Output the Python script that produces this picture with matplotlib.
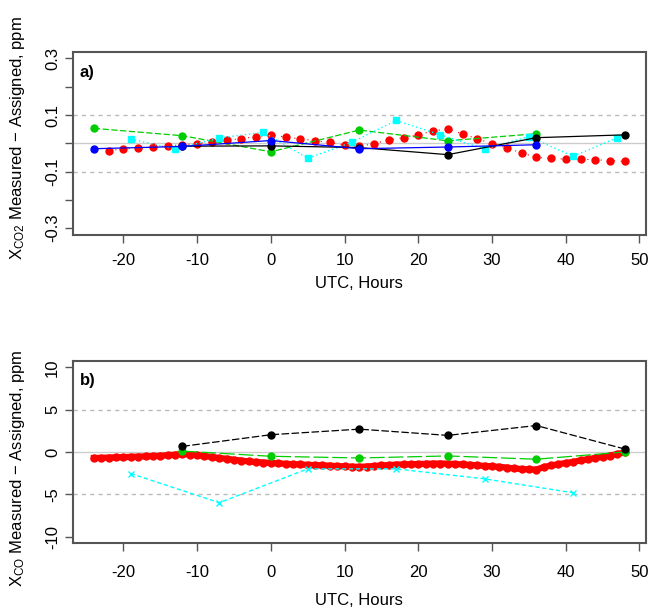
import numpy as np
import matplotlib
matplotlib.use("Agg")
import matplotlib.pyplot as plt

plt.rcParams['font.family'] = ['Liberation Sans', 'DejaVu Sans']
plt.rcParams['mathtext.fontset'] = 'custom'
plt.rcParams['mathtext.rm'] = 'Liberation Sans'

# ---- CO2 panel (a) ----
co2_green_t = [-24, -12, 0, 12, 24, 36]
co2_green = [0.053, 0.027, -0.030, 0.047, 0.009, 0.034]
co2_black_t = [-12, 0, 12, 24, 36, 48]
co2_black = [-0.010, -0.009, -0.015, -0.040, 0.020, 0.030]
co2_blue_t = [-24, -12, 0, 12, 24, 36]
co2_blue = [-0.019, -0.011, 0.010, -0.019, -0.013, -0.005]
co2_cyan_t = [-19, -13, -7, -1, 5, 11, 17, 23, 29, 35, 41, 47]
co2_cyan = [0.015, -0.020, 0.019, 0.039, -0.053, 0.004, 0.081, 0.030,
            -0.020, 0.024, -0.046, 0.020]
co2_red_t = list(range(-22, 49, 2))
co2_red = [-0.026, -0.020, -0.017, -0.013, -0.009, -0.005, -0.001, 0.006,
           0.011, 0.017, 0.023, 0.030, 0.022, 0.016, 0.009, 0.003, -0.006,
           -0.011, -0.001, 0.012, 0.020, 0.030, 0.044, 0.051, 0.033, 0.016,
           -0.001, -0.016, -0.034, -0.050, -0.053, -0.056, -0.056, -0.058,
           -0.061, -0.064]

# ---- CO panel (b) ----
co_black_t = [-12, 0, 12, 24, 36, 48]
co_black = [0.66, 2.04, 2.70, 1.96, 3.13, 0.35]
co_green_t = [-12, 0, 12, 24, 36, 48]
co_green = [0.10, -0.51, -0.71, -0.47, -0.86, 0.0]
co_cyan_t = [-19, -7, 5, 17, 29, 41]
co_cyan = [-2.55, -6.0, -2.0, -2.0, -3.18, -4.83]
co_red_t = list(range(-24, 49))
co_red = [-0.71, -0.70, -0.66, -0.64, -0.62, -0.58, -0.55, -0.52, -0.48,
          -0.45, -0.38, -0.32, -0.24, -0.30, -0.38, -0.48, -0.60, -0.72,
          -0.80, -0.92, -1.02, -1.12, -1.18, -1.25, -1.30, -1.35, -1.40,
          -1.44, -1.48, -1.52, -1.55, -1.58, -1.62, -1.67, -1.70, -1.74,
          -1.76, -1.72, -1.66, -1.60, -1.55, -1.50, -1.47, -1.45, -1.43,
          -1.40, -1.38, -1.37, -1.38, -1.43, -1.48, -1.52, -1.58, -1.65,
          -1.70, -1.76, -1.84, -1.95, -2.02, -2.06, -2.08, -1.80, -1.60,
          -1.45, -1.30, -1.18, -1.00, -0.85, -0.72, -0.58, -0.42, -0.25,
          -0.05]

x_ticks = [-20, -10, 0, 10, 20, 30, 40, 50]
GREEN = '#00CD00'
CYAN = '#00FFFF'
AXCOL = '#555555'

fig = plt.figure(figsize=(6.5, 6.14), dpi=100)
ax1 = fig.add_axes([0.1118, 0.6173, 0.882, 0.2985])
ax2 = fig.add_axes([0.1118, 0.1152, 0.882, 0.2974])


def style_axes(ax, ylim, yticks, ylabels, ref, xpad, lpad):
    ax.set_xlim(-26.88, 50.88)
    ax.set_ylim(*ylim)
    ax.axhline(0, color='#CCCCCC', lw=1.0, zorder=0)
    for r in ref:
        ax.axhline(r, color='#BBBBBB', lw=1.0, ls=(0, (3, 3)), zorder=0)
    ax.set_xticks(x_ticks)
    ax.set_xticklabels([str(v) for v in x_ticks])
    ax.set_yticks(yticks)
    ax.set_yticklabels(ylabels)
    for lab in ax.get_yticklabels():
        lab.set_rotation(90)
        lab.set_va('center')
    ax.tick_params(length=6, width=1.0, color=AXCOL, labelsize=12, pad=3)
    ax.tick_params(axis='x', pad=xpad)
    for sp in ax.spines.values():
        sp.set_color(AXCOL)
        sp.set_linewidth(1.5)
    ax.set_xlabel('UTC, Hours', fontsize=12, labelpad=lpad)


# panel a
style_axes(ax1, (-0.324, 0.324),
           [-0.3, -0.2, -0.1, 0.0, 0.1, 0.2, 0.3],
           ['-0.3', '', '-0.1', '', '0.1', '', '0.3'], [-0.1, 0.1], 7, 6)
ax1.plot(co2_red_t, co2_red, color='red', ls=(0, (1, 5)), lw=0.8,
         marker='o', ms=5, mec='red', zorder=2)
ax1.plot(co2_green_t, co2_green, color=GREEN, ls=(0, (5, 2)), lw=0.9,
         marker='o', ms=5, zorder=3)
ax1.plot(co2_cyan_t, co2_cyan, color=CYAN, ls=(0, (1, 2)), lw=1.0,
         marker='s', ms=5, zorder=3)
ax1.plot(co2_black_t, co2_black, color='black', ls='-', lw=0.9,
         marker='o', ms=5, zorder=4)
ax1.plot(co2_blue_t, co2_blue, color='blue', ls='-', lw=0.9,
         marker='o', ms=5, zorder=5)
ax1.text(0.012, 0.93, 'a)', transform=ax1.transAxes, fontsize=12,
         fontweight='bold', ha='left', va='top')

# panel b
style_axes(ax2, (-10.8, 10.8), [-10, -5, 0, 5, 10],
           ['-10', '-5', '0', '5', '10'], [-5, 5], 10, 9)
ax2.plot(co_red_t, co_red, color='red', lw=4.5, marker='o', ms=5,
         mec='red', zorder=2)
ax2.plot(co_green_t, co_green, color=GREEN, ls=(0, (12, 3)), lw=0.9,
         marker='o', ms=5, zorder=3)
ax2.plot(co_cyan_t, co_cyan, color=CYAN, ls=(0, (3, 2)), lw=1.0,
         marker='x', ms=5, mew=1.0, zorder=3)
ax2.plot(co_black_t, co_black, color='black', ls=(0, (6, 2)), lw=0.9,
         marker='o', ms=5, zorder=4)
ax2.text(0.012, 0.93, 'b)', transform=ax2.transAxes, fontsize=12,
         fontweight='bold', ha='left', va='top')

fig.text(18 / 650, 1 - 138 / 614,
         r'$\mathregular{X_{CO2}}$ Measured $-$ Assigned, ppm',
         rotation=90, ha='center', va='center', fontsize=12)
fig.text(18 / 650, 1 - 468 / 614,
         r'$\mathregular{X_{CO}}$ Measured $-$ Assigned, ppm',
         rotation=90, ha='center', va='center', fontsize=12)

fig.savefig('out.png', dpi=100, facecolor='white')
